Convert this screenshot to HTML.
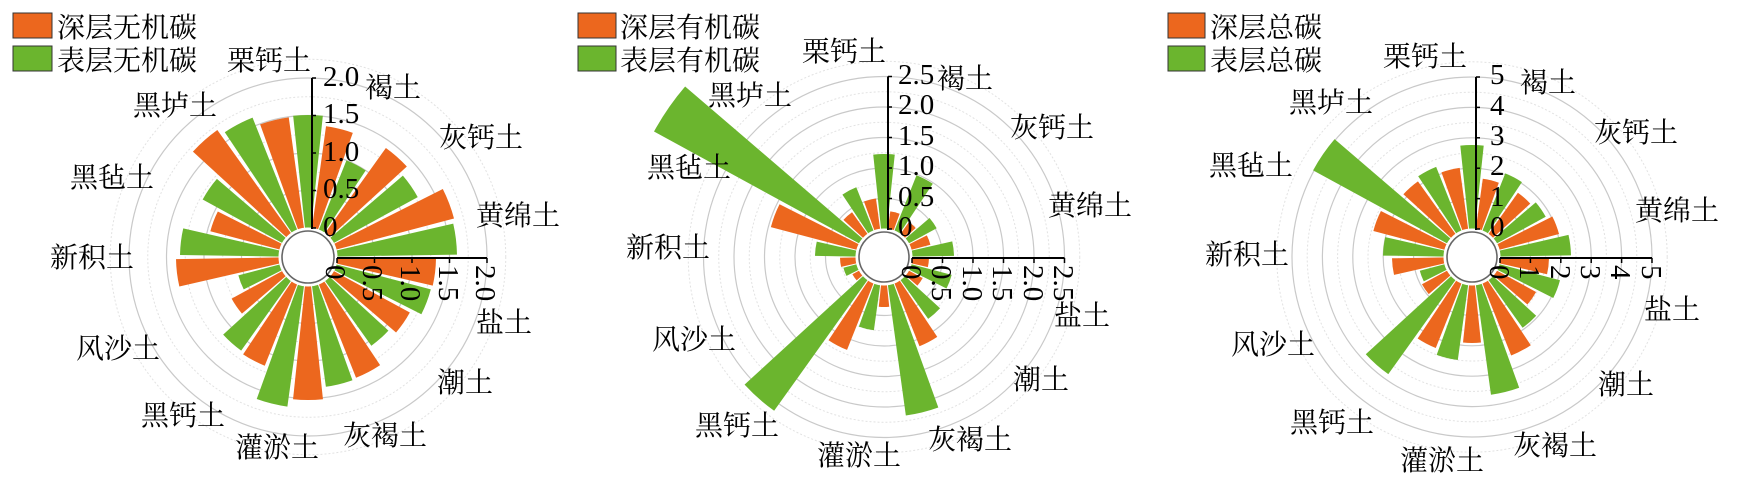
<!DOCTYPE html>
<html><head><meta charset="utf-8"><style>
html,body{margin:0;padding:0;background:#fff;}
svg{display:block}
.t{font-family:"Liberation Serif","Noto Serif CJK SC","Noto Sans CJK SC",serif;font-size:28px;fill:#000}
.n{font-family:"Liberation Serif",serif;font-size:29px;fill:#000}
</style></head><body>
<svg id="s" width="1748" height="497" viewBox="0 0 1748 497" xmlns="http://www.w3.org/2000/svg">
<g id="g1"></g><g id="g2"></g><g id="g3"></g>
<rect x="13" y="13" width="39" height="25" fill="#EC671E" stroke="#333" stroke-width="1"/>
<rect x="13" y="46" width="39" height="25" fill="#6BB52E" stroke="#333" stroke-width="1"/>
<text class="t" x="57" y="37">深层无机碳</text>
<text class="t" x="57" y="70">表层无机碳</text>
<rect x="578" y="13" width="38" height="25" fill="#EC671E" stroke="#333" stroke-width="1"/>
<rect x="578" y="46" width="38" height="25" fill="#6BB52E" stroke="#333" stroke-width="1"/>
<text class="t" x="620" y="37">深层有机碳</text>
<text class="t" x="620" y="70">表层有机碳</text>
<rect x="1168" y="13" width="37" height="25" fill="#EC671E" stroke="#333" stroke-width="1"/>
<rect x="1168" y="46" width="37" height="25" fill="#6BB52E" stroke="#333" stroke-width="1"/>
<text class="t" x="1210" y="37">深层总碳</text>
<text class="t" x="1210" y="70">表层总碳</text>
<text class="t" x="227" y="70">栗钙土</text>
<text class="t" x="365" y="97">褐土</text>
<text class="t" x="439" y="147">灰钙土</text>
<text class="t" x="476" y="225">黄绵土</text>
<text class="t" x="476" y="332">盐土</text>
<text class="t" x="437" y="392">潮土</text>
<text class="t" x="343" y="445">灰褐土</text>
<text class="t" x="235" y="457">灌淤土</text>
<text class="t" x="141" y="425">黑钙土</text>
<text class="t" x="76" y="358">风沙土</text>
<text class="t" x="50" y="267">新积土</text>
<text class="t" x="70" y="187">黑毡土</text>
<text class="t" x="133" y="115">黑垆土</text>
<text class="t" x="802" y="61">栗钙土</text>
<text class="t" x="937" y="88">褐土</text>
<text class="t" x="1010" y="137">灰钙土</text>
<text class="t" x="1048" y="215">黄绵土</text>
<text class="t" x="1054" y="325">盐土</text>
<text class="t" x="1013" y="389">潮土</text>
<text class="t" x="928" y="449">灰褐土</text>
<text class="t" x="817" y="465">灌淤土</text>
<text class="t" x="695" y="435">黑钙土</text>
<text class="t" x="652" y="349">风沙土</text>
<text class="t" x="626" y="257">新积土</text>
<text class="t" x="647" y="177">黑毡土</text>
<text class="t" x="708" y="105">黑垆土</text>
<text class="t" x="1383" y="66">栗钙土</text>
<text class="t" x="1520" y="92">褐土</text>
<text class="t" x="1594" y="142">灰钙土</text>
<text class="t" x="1635" y="220">黄绵土</text>
<text class="t" x="1644" y="319">盐土</text>
<text class="t" x="1598" y="394">潮土</text>
<text class="t" x="1513" y="455">灰褐土</text>
<text class="t" x="1400" y="470">灌淤土</text>
<text class="t" x="1290" y="432">黑钙土</text>
<text class="t" x="1231" y="354">风沙土</text>
<text class="t" x="1205" y="264">新积土</text>
<text class="t" x="1209" y="175">黑毡土</text>
<text class="t" x="1289" y="112">黑垆土</text>
<g class="n">
<text x="323" y="236">0</text><text x="323" y="198">0.5</text><text x="323" y="161">1.0</text><text x="323" y="123">1.5</text><text x="323" y="86">2.0</text>
<text transform="translate(336,265) rotate(90)" x="0" y="10">0</text>
<text transform="translate(373,265) rotate(90)" x="0" y="10">0.5</text>
<text transform="translate(411,265) rotate(90)" x="0" y="10">1.0</text>
<text transform="translate(449,265) rotate(90)" x="0" y="10">1.5</text>
<text transform="translate(486,265) rotate(90)" x="0" y="10">2.0</text>
<text x="898" y="236">0</text><text x="898" y="206">0.5</text><text x="898" y="175">1.0</text><text x="898" y="145">1.5</text><text x="898" y="114">2.0</text><text x="898" y="84">2.5</text>
<text transform="translate(912,265) rotate(90)" x="0" y="10">0</text>
<text transform="translate(942,265) rotate(90)" x="0" y="10">0.5</text>
<text transform="translate(973,265) rotate(90)" x="0" y="10">1.0</text>
<text transform="translate(1003,265) rotate(90)" x="0" y="10">1.5</text>
<text transform="translate(1034,265) rotate(90)" x="0" y="10">2.0</text>
<text transform="translate(1064,265) rotate(90)" x="0" y="10">2.5</text>
<text x="1490" y="236">0</text><text x="1490" y="206">1</text><text x="1490" y="175">2</text><text x="1490" y="145">3</text><text x="1490" y="115">4</text><text x="1490" y="84">5</text>
<text transform="translate(1500,265) rotate(90)" x="0" y="10">0</text>
<text transform="translate(1530,265) rotate(90)" x="0" y="10">1</text>
<text transform="translate(1561,265) rotate(90)" x="0" y="10">2</text>
<text transform="translate(1591,265) rotate(90)" x="0" y="10">3</text>
<text transform="translate(1621,265) rotate(90)" x="0" y="10">4</text>
<text transform="translate(1652,265) rotate(90)" x="0" y="10">5</text>
</g>
</svg>
<script>
var NS="http://www.w3.org/2000/svg";
function el(p,n,a){var e=document.createElementNS(NS,n);for(var k in a)e.setAttribute(k,a[k]);p.appendChild(e);return e;}
function chart(id,cx,cy,r0,step,nt,radii){
  var g=document.getElementById(id);
  for(var i=1;i<=nt*2+1;i++){
    var r=r0+step*i/2;
    if(i%2==0) el(g,"circle",{cx:cx,cy:cy,r:r,fill:"none",stroke:"#c9c9c9","stroke-width":1.2});
    else el(g,"circle",{cx:cx,cy:cy,r:r,fill:"none",stroke:"#e2e2e2","stroke-width":1,"stroke-dasharray":"2,2"});
  }
  var hw=6;
  for(var k=0;k<26;k++){
    var a=k*360/26, R=radii[k], ri=r0-2;
    var a1=(a-hw-90)*Math.PI/180,a2=(a+hw-90)*Math.PI/180;
    var d="M"+(cx+ri*Math.cos(a1))+","+(cy+ri*Math.sin(a1))+" L"+(cx+R*Math.cos(a1))+","+(cy+R*Math.sin(a1))+
      " A"+R+","+R+" 0 0 1 "+(cx+R*Math.cos(a2))+","+(cy+R*Math.sin(a2))+" L"+(cx+ri*Math.cos(a2))+","+(cy+ri*Math.sin(a2))+" Z";
    el(g,"path",{d:d,fill:(k%2==0)?"#6BB52E":"#EC671E"});
  }
  el(g,"circle",{cx:cx,cy:cy,r:r0-1,fill:"#fff",stroke:"#fff","stroke-width":3});
  el(g,"circle",{cx:cx,cy:cy,r:r0-3,fill:"#fff",stroke:"#666","stroke-width":1.6});
  var ax=cx+4, ay=cy+1, top=r0+step*nt;
  el(g,"line",{x1:ax,y1:cy-r0+1,x2:ax,y2:cy-top,stroke:"#000","stroke-width":2});
  el(g,"line",{x1:cx+r0,y1:ay,x2:cx+top,y2:ay,stroke:"#000","stroke-width":2});
  for(var i=0;i<=nt;i++){
    var r=r0+step*i;
    el(g,"line",{x1:ax,y1:cy-r,x2:ax+4,y2:cy-r,stroke:"#000","stroke-width":1.5});
    el(g,"line",{x1:cx+r,y1:ay,x2:cx+r,y2:ay+5,stroke:"#000","stroke-width":1.5});
  }
}
chart("g1",308,257,29,37.5,4,[142,132,104,134,125,151,149,128,127,116,109,130,131,143,151,117,115,87,72,132,128,101,120,156,150,141]);
chart("g2",884,257,28,30.5,5,[103,46,88,43,60,48,70,45,70,44,76,96,160,50,74,100,189,36,42,44,69,117,262,55,75,59]);
chart("g3",1472,257,28,30.4,5,[112,79,90,79,84,90,99,77,91,73,87,106,139,86,104,98,144,57,54,80,89,102,181,93,97,90]);
</script>
</body></html>
